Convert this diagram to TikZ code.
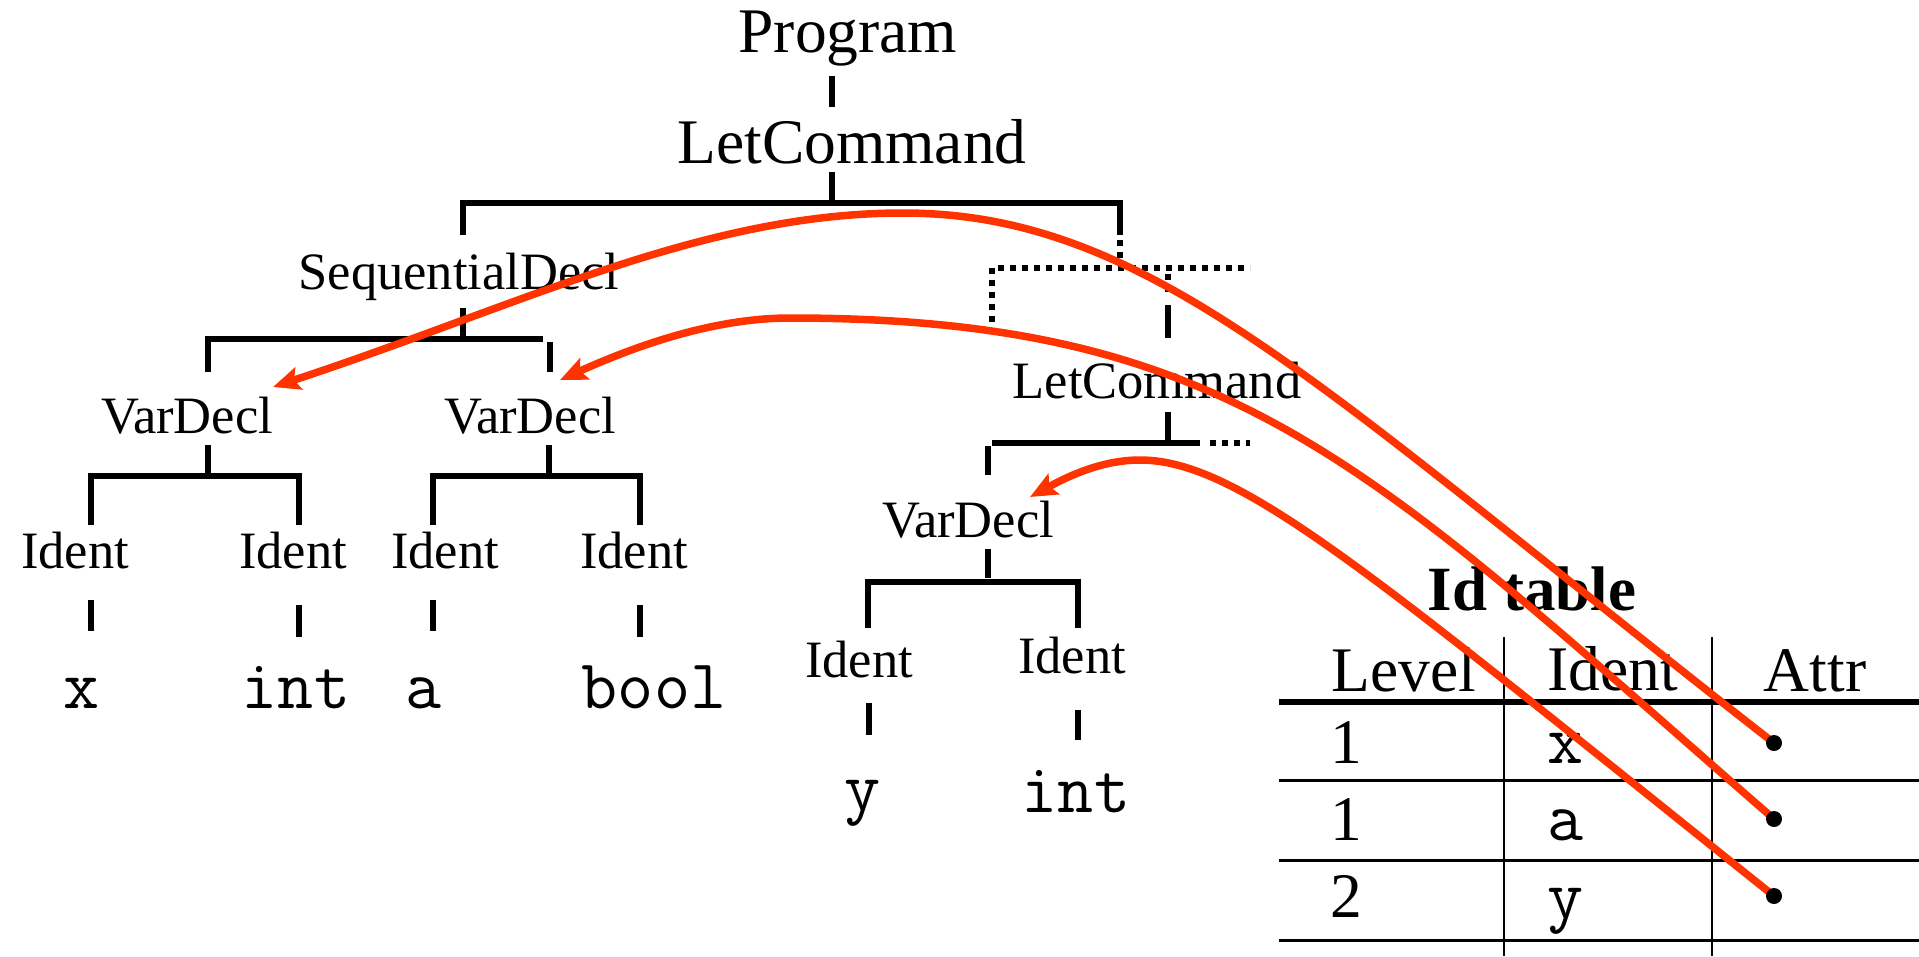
\documentclass[tikz,border=0pt]{standalone}
\usepackage{fontspec}
\setmainfont{Liberation Serif}
\usetikzlibrary{arrows.meta}
\definecolor{linkred}{RGB}{255,51,0}
\begin{document}
\begin{tikzpicture}[x=1pt,y=-1pt,
  big/.style={anchor=base,inner sep=0pt,font=\fontsize{63.5}{70}\selectfont},
  small/.style={anchor=base,inner sep=0pt,font=\fontsize{52.5}{60}\selectfont},
  code/.style={anchor=base,inner sep=0pt,font=\fontsize{70}{76}\selectfont\ttfamily},
  head/.style={anchor=base,inner sep=0pt,font=\fontsize{63.5}{70}\selectfont},
  num/.style={anchor=base west,inner sep=0pt,font=\fontsize{63.5}{70}\selectfont},
  title/.style={anchor=base,inner sep=0pt,font=\fontsize{63}{70}\selectfont\bfseries},
  edge/.style={line width=6pt},
  dotedge/.style={line width=6pt,dash pattern=on 6pt off 6pt},
  rule/.style={line width=3pt},
  thickrule/.style={line width=6pt},
  colrule/.style={line width=2.5pt},
  link/.style={draw=linkred,line width=7.5pt,line join=round,
    -{Stealth[length=27pt,width=23pt,inset=5pt]}},
  attrdot/.style={circle,fill=black,inner sep=0pt,minimum size=16pt}
]
\useasboundingbox (0,0) rectangle (1919,956);
\fill[white] (0,0) rectangle (1919,956);

% ---------- syntax tree: labels ----------
\node[big]   (prog) at (848,52)  {Program};
\node[big]   (let1) at (852,163) {LetCommand};
\node[small] (seq)  at (459,289) {SequentialDecl};
\node[small] (vd1)  at (187,433) {VarDecl};
\node[small] (vd2)  at (530,433) {VarDecl};
\node[small] (id1)  at (75,568)  {Ident};
\node[small] (id2)  at (293,568) {Ident};
\node[small] (id3)  at (445,568) {Ident};
\node[small] (id4)  at (634,568) {Ident};
\node[code]  (tx)    at (82,708)  {x};
\node[code]  (tint)  at (296,708) {int};
\node[code]  (ta)    at (424,708) {a};
\node[code]  (tbool) at (654,708) {bool};
\node[small] (let2) at (1157,398) {LetCommand};
\node[small] (vd3)  at (968,537)  {VarDecl};
\node[small] (id5)  at (859,677)  {Ident};
\node[small] (id6)  at (1072,673) {Ident};
\node[code]  (ty)    at (863,810)  {y};
\node[code]  (tint2) at (1076,812) {int};

% ---------- syntax tree: branches ----------
\draw[edge] (832,76) -- (832,107);
\draw[edge] (832,172) -- (832,202);
\draw[edge] (463,235) -- (463,203) -- (1120,203) -- (1120,235);
\draw[dotedge] (1120,240) -- (1120,262);
\draw[edge] (463,308) -- (463,337);
\draw[edge] (208,372) -- (208,339) -- (543,339);
\draw[edge] (550,342) -- (550,372);
\draw[edge] (208,445) -- (208,475);
\draw[edge] (91,525) -- (91,476) -- (299,476) -- (299,525);
\draw[edge] (549,445) -- (549,475);
\draw[edge] (433,525) -- (433,476) -- (640,476) -- (640,525);
\draw[edge] (91,600) -- (91,631);
\draw[edge] (299,605) -- (299,637);
\draw[edge] (433,600) -- (433,631);
\draw[edge] (640,605) -- (640,637);

% dotted part of the second declaration block
\draw[dotedge] (992,322) -- (992,268) -- (1250,268);
\draw[dotedge] (1168,274) -- (1168,298);
\draw[edge] (1168,305) -- (1168,338);
\draw[edge] (1168,412) -- (1168,442);
\draw[edge] (992,443) -- (1200,443);
\draw[dotedge] (1210,443) -- (1250,443);
\draw[edge] (988,446) -- (988,475);
\draw[edge] (988,549) -- (988,578);
\draw[edge] (868,628) -- (868,582) -- (1078,582) -- (1078,628);
\draw[edge] (869,703) -- (869,735);
\draw[edge] (1078,710) -- (1078,740);

% ---------- identification table ----------
\node[title] (ttl) at (1532,610) {Id table};
\node[head] (hlev) at (1404,691) {Level};
\node[head] (hid)  at (1613,690) {Ident};
\node[head] (hat)  at (1815,691) {Attr};
\node[num] (l1) at (1330,763) {1};
\node[num] (l2) at (1330,840) {1};
\node[num] (l3) at (1330,917) {2};
\node[code] (c1) at (1566,763) {x};
\node[code] (c2) at (1566,840) {a};
\node[code] (c3) at (1566,918) {y};
\draw[thickrule] (1279,702) -- (1919,702);
\draw[rule] (1279,780) -- (1919,780);
\draw[rule] (1279,860) -- (1919,860);
\draw[rule] (1279,940) -- (1919,940);
\draw[colrule] (1504,637) -- (1504,956);
\draw[colrule] (1712,637) -- (1712,956);

% ---------- links from the table entries to the declarations ----------
\coordinate (p1) at (1774,743);
\coordinate (p2) at (1774,819);
\coordinate (p3) at (1774,896);
\coordinate (top1) at (903,213);
\coordinate (top2) at (790,318);
\coordinate (top3) at (1140,460);
\coordinate (tip1) at (273,387);
\coordinate (tip2) at (560,380);
\coordinate (tip3) at (1030,497);

\draw[link] (p1) .. controls (1324,392) and (1153,213) .. (top1)
  .. controls (703,213) and (523,304.5) .. (tip1);
\draw[link] (p2) .. controls (1374,471) and (1240,318) .. (top2)
  .. controls (710,318) and (630,348.5) .. (tip2);
\draw[link] (p3) .. controls (1374,576) and (1240,460) .. (top3)
  .. controls (1100,460) and (1065,478) .. (tip3);

\node[attrdot] (a1) at (p1) {};
\node[attrdot] (a2) at (p2) {};
\node[attrdot] (a3) at (p3) {};
\end{tikzpicture}
\end{document}
